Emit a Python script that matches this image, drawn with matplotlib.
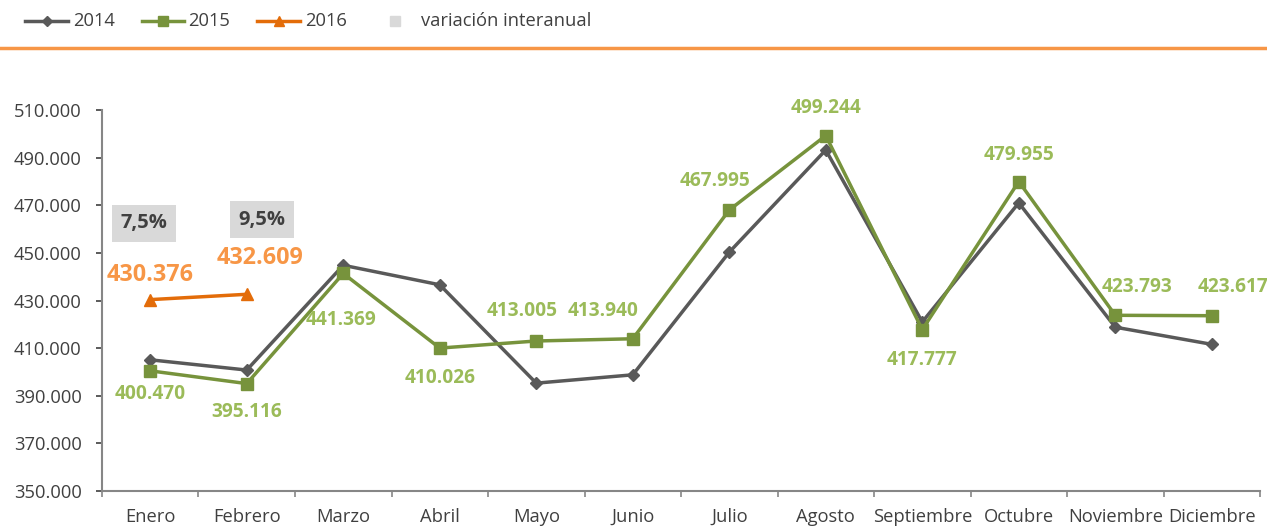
import matplotlib.pyplot as plt
from matplotlib.lines import Line2D
import numpy as np

plt.rcParams.update({'font.family': ['Open Sans', 'DejaVu Sans'], 'font.size': 12})

months = ['Enero', 'Febrero', 'Marzo', 'Abril', 'Mayo', 'Junio', 'Julio',
          'Agosto', 'Septiembre', 'Octubre', 'Noviembre', 'Diciembre']
v2014 = [405.1, 400.8, 444.8, 436.6, 395.3, 398.8, 450.3, 493.2, 421.0, 471.0, 418.8, 411.6]
v2015 = [400.470, 395.116, 441.369, 410.026, 413.005, 413.940, 467.995, 499.244,
         417.777, 479.955, 423.793, 423.617]
v2016 = [430.376, 432.609]
variacion = ['7,5%', '9,5%']

# label offsets for 2015 values (dx in categories, dy in thousands)
lab15_dx = [0, 0, -0.02, 0, -0.15, -0.31, -0.15, 0, 0, 0, 0.23, 0.22]
lab15_dy = [-9.8, -12, -19.7, -12.6, 12.5, 11.6, 12, 11.4, -12.8, 11, 11.7, 11.9]

c14 = '#595959'
c15 = '#77933C'
c15_txt = '#9BBB59'
c16 = '#E36C09'
c16_txt = '#F79646'
txt = '#404040'

W, H = 1267, 528
fig = plt.figure(figsize=(W / 100, H / 100), dpi=100)
ax = fig.add_axes([0.0805, 0.070, 0.9140, 0.7217])
x = np.arange(len(months))

ax.plot(x, v2014, color=c14, lw=2.5, marker='D', ms=6)
ax.plot(x, v2015, color=c15, lw=2.5, marker='s', ms=8.5)
ax.plot(x[:len(v2016)], v2016, color=c16, lw=2.5, marker='^', ms=8.5)

def fmt(v):
    return f'{v:.3f}'

for i, v in enumerate(v2015):
    ax.text(i + lab15_dx[i], v + lab15_dy[i], fmt(v), color=c15_txt, fontsize=13.8,
            fontweight='bold', ha='center', va='center', clip_on=False)

lab16_xy = [(0.003, 440.6), (1.137, 447.7)]
for v, (lx, ly) in zip(v2016, lab16_xy):
    ax.text(lx, ly, fmt(v), color=c16_txt, fontsize=16.8, fontweight='bold',
            ha='center', va='center')

var_xy = [(-0.065, 462.4), (1.16, 464.0)]
for t, (lx, ly) in zip(variacion, var_xy):
    ax.text(lx, ly, t, color=txt, fontsize=14.5, fontweight='bold',
            ha='center', va='center',
            bbox=dict(boxstyle='square,pad=0.42', fc='#D9D9D9', ec='none'))

ax.set_xlim(-0.5, len(months) - 0.5)
ax.set_ylim(350, 510)
yt = np.arange(350, 511, 20)
ax.set_yticks(yt)
ax.set_yticklabels([f'{int(t)}.000' for t in yt])
ax.set_xticks(x)
ax.set_xticklabels(months)
ax.set_xticks(np.arange(-0.5, len(months), 1), minor=True)
ax.tick_params(axis='x', which='major', length=0, pad=12)
ax.tick_params(axis='x', which='minor', length=4.5, width=1.2, color='#868686', direction='out')
ax.tick_params(axis='y', length=4.5, width=1.2, color='#868686', pad=10)
ax.tick_params(colors=txt, which='both', labelsize=13.2)
ax.tick_params(axis='x', which='minor', colors='#868686')
for s in ['top', 'right']:
    ax.spines[s].set_visible(False)
for s in ['left', 'bottom']:
    ax.spines[s].set_color('#868686')
    ax.spines[s].set_linewidth(1.5)

# orange rule under the legend
fig.add_artist(Line2D([0, 1], [1 - 48 / H, 1 - 48 / H], color=c16_txt, lw=2.5))

# legend drawn by hand (pixel positions of the reference)
ly = 1 - 21 / H
legend_items = [
    ('2014', c14, 'D', 5.5, 25, 68, 73),
    ('2015', c15, 's', 7.5, 142, 184, 188),
    ('2016', c16, '^', 7.5, 257, 300, 305),
]
for name, col, mk, ms, x0, x1, tx in legend_items:
    fig.add_artist(Line2D([x0 / W, x1 / W], [ly, ly], color=col, lw=2.5))
    fig.add_artist(Line2D([(x0 + x1) / 2 / W], [ly], color=col, marker=mk, ms=ms, lw=0))
    fig.text(tx / W, ly, name, color=txt, fontsize=13.2, ha='left', va='center')
fig.add_artist(Line2D([395 / W], [ly], color='#D9D9D9', marker='s', ms=7.5, lw=0))
fig.text(421 / W, ly, 'variación interanual', color=txt, fontsize=13.2, ha='left', va='center')

fig.savefig('out.png', dpi=100)
